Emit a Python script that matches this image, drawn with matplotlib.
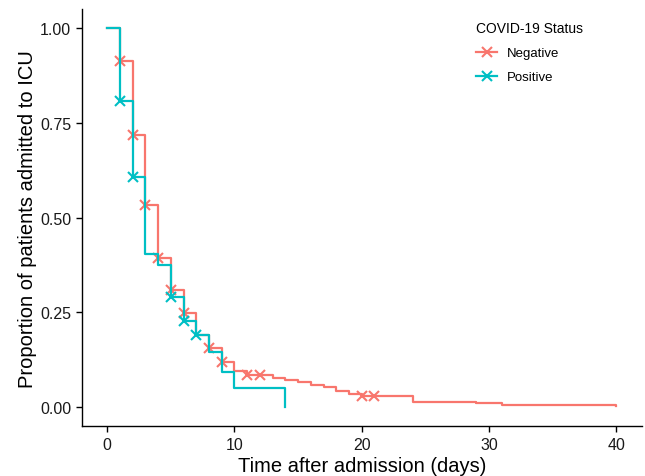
import numpy as np
import matplotlib
matplotlib.use('Agg')
from matplotlib import pyplot as plt
from matplotlib.lines import Line2D

plt.rcParams['font.family'] = ['Liberation Sans', 'DejaVu Sans']

# Kaplan-Meier style step data
neg_time = [0, 1, 2, 3, 4, 5, 6, 7, 8, 9, 10, 11, 13, 14, 15, 16, 17, 18, 19, 20, 24, 29, 31, 40]
neg_surv = [1.0, 0.912, 0.718, 0.533, 0.394, 0.308, 0.249, 0.191, 0.156, 0.119, 0.095, 0.084,
            0.078, 0.071, 0.066, 0.059, 0.053, 0.044, 0.035, 0.030, 0.015, 0.011, 0.006, 0.004]
neg_censor = [1, 2, 3, 4, 5, 6, 8, 9, 11, 12, 20, 21]

pos_time = [0, 1, 2, 3, 4, 5, 6, 7, 8, 9, 10, 14]
pos_surv = [1.0, 0.808, 0.606, 0.403, 0.376, 0.292, 0.227, 0.190, 0.145, 0.094, 0.052, 0.0]
pos_censor = [1, 2, 5, 6, 7]

groups = ['Negative', 'Positive']
colors = ['#F8766D', '#00BFC4']


def censor_y(times, surv, cens):
    idx = np.searchsorted(times, cens, side='right') - 1
    return np.asarray(surv)[idx]


fig = plt.figure(figsize=(6.45, 4.77), dpi=100)
ax = fig.add_axes([0.1267, 0.1042, 0.995 - 0.1267, 0.979 - 0.1042])

data = [(neg_time, neg_surv, neg_censor), (pos_time, pos_surv, pos_censor)]
for (t, s, c), col in zip(data, colors):
    ax.step(t, s, where='post', color=col, lw=1.6)
    ax.plot(c, censor_y(t, s, c), ls='none', marker='x', color=col, ms=6.5, mew=1.5)

ax.set_xlim(-2, 42)
ax.set_ylim(-0.05, 1.05)
ax.set_xticks([0, 10, 20, 30, 40])
ax.set_yticks([0, 0.25, 0.5, 0.75, 1.0])
ax.set_yticklabels(['0.00', '0.25', '0.50', '0.75', '1.00'])
ax.tick_params(labelsize=11.5, length=4, width=1, colors='black', labelcolor='#1a1a1a')
for side in ['top', 'right']:
    ax.spines[side].set_visible(False)
for side in ['left', 'bottom']:
    ax.spines[side].set_linewidth(1.0)

ax.set_xlabel('Time after admission (days)', fontsize=14.5, labelpad=3)
ax.set_ylabel('Proportion of patients admitted to ICU', fontsize=14.5, labelpad=2)

handles = [Line2D([], [], color=col, lw=1.6, marker='x', ms=6.5, mew=1.5) for col in colors]
leg = ax.legend(handles, groups, title='COVID-19 Status', loc='upper left',
                bbox_to_anchor=(471 / 645, 1 - 17 / 477), bbox_transform=fig.transFigure,
                frameon=False, fontsize=9.5, title_fontsize=10, handlelength=1.6,
                handletextpad=0.75, labelspacing=0.9, borderaxespad=0)
leg._legend_box.align = 'left'

fig.savefig('out.png', dpi=100)
